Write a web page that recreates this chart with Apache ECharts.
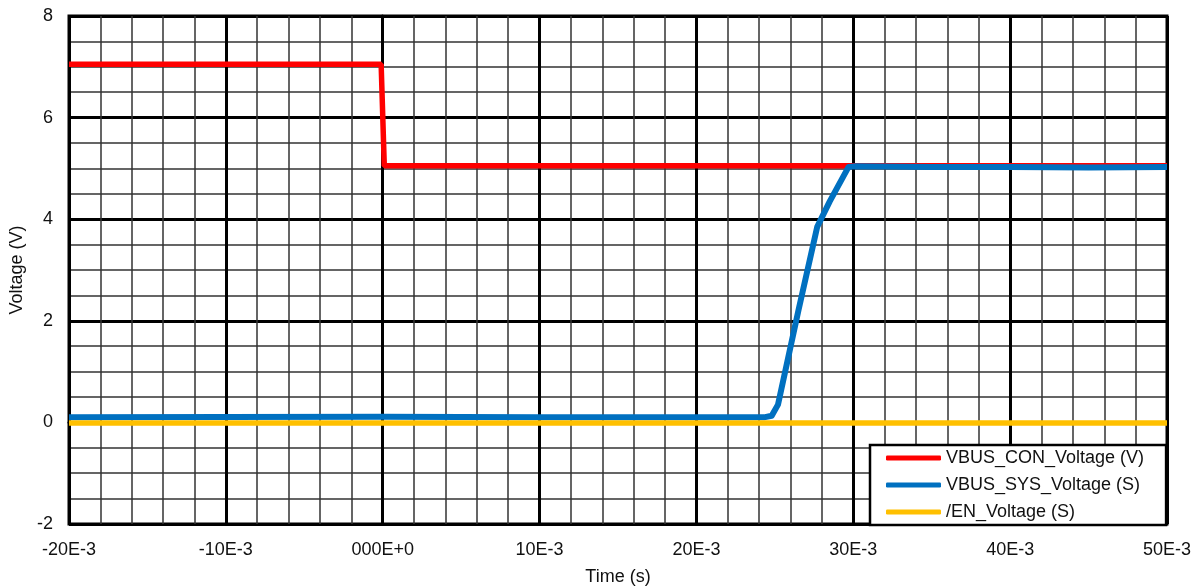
<!DOCTYPE html>
<html>
<head>
<meta charset="utf-8">
<script src="https://cdn.jsdelivr.net/npm/echarts@6/dist/echarts.min.js"></script>
<style>
  html, body { margin: 0; padding: 0; background: #fff; }
  #chart { width: 1196px; height: 586px; }
</style>
</head>
<body>
<div id="chart"></div>
<script>
// Time axis (seconds) and tick labels
const xTickLabels = ['-20E-3', '-10E-3', '000E+0', '10E-3', '20E-3', '30E-3', '40E-3', '50E-3'];
const yTickLabels = ['-2', '0', '2', '4', '6', '8'];

// VBUS_CON_Voltage (V)
const conTime = [-0.02, -0.0001, 0.0001, 0.05];
const conVolt = [7.05, 7.05, 5.05, 5.05];

// VBUS_SYS_Voltage (S)
const sysTime = [-0.02, 0.0, 0.01, 0.02, 0.0243, 0.0248, 0.0252, 0.0265, 0.0277, 0.0285, 0.0297, 0.0302, 0.035, 0.04, 0.045, 0.05];
const sysVolt = [0.10, 0.11, 0.10, 0.10, 0.10, 0.13, 0.35, 2.2, 3.85, 4.35, 5.03, 5.04, 5.03, 5.03, 5.02, 5.03];

// /EN_Voltage (S)
const enTime = [-0.02, 0.0, 0.025, 0.05];
const enVolt = [-0.01, -0.01, -0.01, -0.01];

const pair = (t, v) => t.map((x, i) => [x, v[i]]);

const xMin = -0.02, xMax = 0.05, xStep = 0.01;
const yMin = -2, yMax = 8, yStep = 2;

const textColor = '#111';
const font = 'Liberation Sans, Arial, sans-serif';
const fontSize = 18;

const chart = echarts.init(document.getElementById('chart'), null, { renderer: 'canvas' });

chart.setOption({
  animation: false,
  backgroundColor: '#fff',
  grid: {
    left: 69, right: 29, top: 16, bottom: 62,
    containLabel: false, outerBoundsMode: 'none',
    show: true, borderColor: '#000', borderWidth: 3, backgroundColor: 'transparent'
  },
  xAxis: {
    type: 'value',
    min: xMin, max: xMax, interval: xStep,
    name: 'Time (s)', nameLocation: 'middle', nameGap: 44,
    nameTextStyle: { color: textColor, fontSize: fontSize, fontFamily: font },
    axisLine: { show: true, lineStyle: { color: '#000', width: 3 } },
    axisTick: { show: false },
    axisLabel: {
      color: textColor, fontSize: fontSize, fontFamily: font, margin: 17,
      formatter: v => xTickLabels[Math.round((v - xMin) / xStep)] ?? ''
    },
    splitLine: { show: true, lineStyle: { color: '#000', width: 3 } },
    minorTick: { show: false, splitNumber: 5 },
    minorSplitLine: { show: true, lineStyle: { color: '#333', width: 1.5 } }
  },
  yAxis: {
    type: 'value',
    min: yMin, max: yMax, interval: yStep,
    name: 'Voltage (V)', nameLocation: 'middle', nameGap: 42,
    nameTextStyle: { color: textColor, fontSize: fontSize, fontFamily: font },
    axisLine: { show: true, lineStyle: { color: '#000', width: 3 } },
    axisTick: { show: false },
    axisLabel: {
      color: textColor, fontSize: fontSize, fontFamily: font, margin: 16,
      formatter: v => yTickLabels[Math.round((v - yMin) / yStep)] ?? ''
    },
    splitLine: { show: true, lineStyle: { color: '#000', width: 3 } },
    minorTick: { show: false, splitNumber: 4 },
    minorSplitLine: { show: true, lineStyle: { color: '#333', width: 1.5 } }
  },
  legend: {
    orient: 'vertical',
    left: 870, top: 445,
    padding: [3, 22, 3, 16],
    itemWidth: 55, itemHeight: 5, itemGap: 7,
    icon: 'roundRect',
    backgroundColor: '#fff', borderColor: '#000', borderWidth: 2.5,
    textStyle: { color: textColor, fontSize: fontSize, fontFamily: font, lineHeight: 20 },
    data: ['VBUS_CON_Voltage (V)', 'VBUS_SYS_Voltage (S)', '/EN_Voltage (S)']
  },
  series: [
    {
      name: 'VBUS_CON_Voltage (V)', type: 'line', showSymbol: false,
      data: pair(conTime, conVolt),
      itemStyle: { color: '#ff0000' },
      lineStyle: { color: '#ff0000', width: 5.5 }
    },
    {
      name: 'VBUS_SYS_Voltage (S)', type: 'line', showSymbol: false,
      data: pair(sysTime, sysVolt),
      itemStyle: { color: '#0070c0' },
      lineStyle: { color: '#0070c0', width: 6, join: 'round' }
    },
    {
      name: '/EN_Voltage (S)', type: 'line', showSymbol: false,
      data: pair(enTime, enVolt),
      itemStyle: { color: '#ffc000' },
      lineStyle: { color: '#ffc000', width: 5.5 }
    }
  ]
});
</script>
</body>
</html>
